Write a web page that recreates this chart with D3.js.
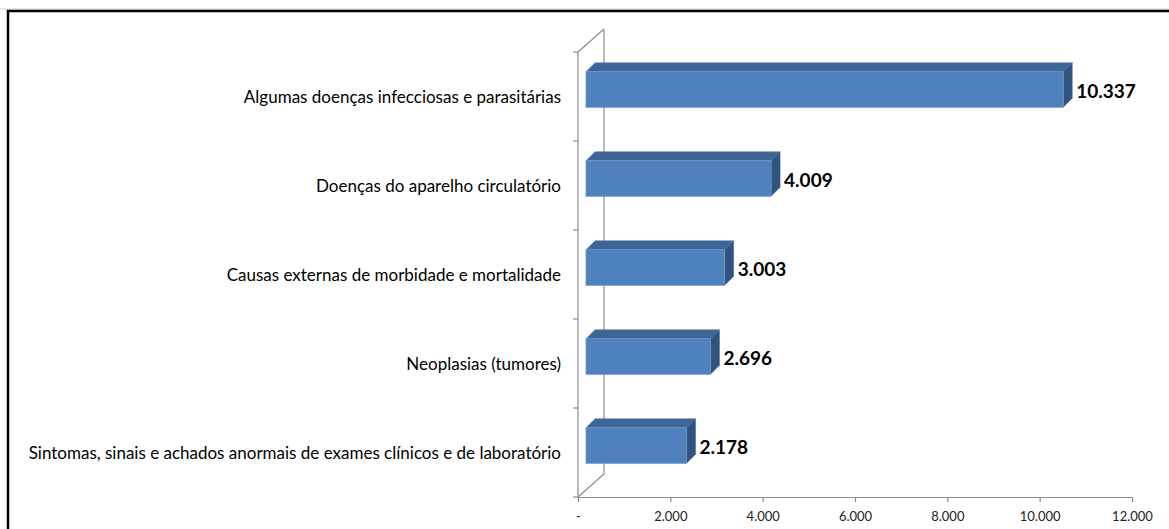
<!DOCTYPE html>
<html>
<head>
<meta charset="utf-8">
<script src="https://cdn.jsdelivr.net/npm/d3@7"></script>
<style>
  html, body { margin: 0; padding: 0; background: #fff; }
  svg { display: block; }
</style>
</head>
<body>
<script>
const categories = [
  "Algumas doenças infecciosas e parasitárias",
  "Doenças do aparelho circulatório",
  "Causas externas de morbidade e mortalidade",
  "Neoplasias (tumores)",
  "Sintomas, sinais e achados anormais de exames clínicos e de laboratório"
];
const values = [10337, 4009, 3003, 2696, 2178];
const tickValues = [0, 2000, 4000, 6000, 8000, 10000, 12000];

const W = 1169, H = 529;
const svg = d3.select("body").append("svg").attr("width", W).attr("height", H);

const locale = d3.formatLocale({decimal: ",", thousands: ".", grouping: [3], currency: ["R$", ""]});
const fmt = locale.format(",.0f");

// frame
svg.append("line").attr("x1", 0).attr("x2", W).attr("y1", 9).attr("y2", 9)
  .attr("stroke", "#d0d0d0").attr("stroke-width", 1);
svg.append("rect").attr("x", 8).attr("y", 11).attr("width", W + 20).attr("height", H + 20)
  .attr("fill", "none").attr("stroke", "#000").attr("stroke-width", 2.5);

const plot = {left: 578, right: 1132, top: 52, bottom: 497};
const wall = {dx: 26, dy: -23};
const x = d3.scaleLinear().domain([0, 12000]).range([plot.left, plot.right]);
const y = d3.scaleBand().domain(categories).range([plot.top, plot.bottom])
  .paddingInner(0.6).paddingOuter(0.3);

const axisColor = "#8c8c8c";
const g = svg.append("g");

// back wall line and diagonals
g.append("line").attr("x1", plot.left + wall.dx).attr("x2", plot.left + wall.dx)
  .attr("y1", plot.top + wall.dy).attr("y2", plot.bottom + wall.dy)
  .attr("stroke", axisColor).attr("stroke-width", 1.2);
g.append("line").attr("x1", plot.left).attr("y1", plot.top)
  .attr("x2", plot.left + wall.dx).attr("y2", plot.top + wall.dy)
  .attr("stroke", axisColor).attr("stroke-width", 1.2);
g.append("line").attr("x1", plot.left).attr("y1", plot.bottom)
  .attr("x2", plot.left + wall.dx).attr("y2", plot.bottom + wall.dy)
  .attr("stroke", axisColor).attr("stroke-width", 1.2);

// front vertical axis
g.append("line").attr("x1", plot.left).attr("x2", plot.left)
  .attr("y1", plot.top).attr("y2", plot.bottom)
  .attr("stroke", axisColor).attr("stroke-width", 1.2);
const step = y.step();
const catTicks = d3.range(categories.length + 1).map(i => plot.top + i * step);
g.selectAll(".ctick").data(catTicks).join("line")
  .attr("x1", plot.left - 5).attr("x2", plot.left)
  .attr("y1", d => d).attr("y2", d => d)
  .attr("stroke", axisColor).attr("stroke-width", 1.2);

// x axis
const xAxis = d3.axisBottom(x).tickValues(tickValues).tickSize(5)
  .tickFormat(d => d === 0 ? "-" : fmt(d));
const xg = svg.append("g").attr("transform", `translate(0,${plot.bottom})`).call(xAxis);
xg.select(".domain").attr("stroke", axisColor).attr("stroke-width", 1.2);
xg.selectAll(".tick line").attr("stroke", axisColor).attr("stroke-width", 1.2);
xg.selectAll(".tick text").attr("font-family", "Lato, sans-serif").attr("font-size", 13)
  .attr("fill", "#222").attr("dy", "1.2em");

// bars (3D)
const off = {dx: 8, dy: -7};
const depth = {dx: 9, dy: -9};
const bars = svg.append("g");
categories.forEach((c, i) => {
  const v = values[i];
  const x0 = x(0) + off.dx, x1 = x(v) + off.dx;
  const y0 = y(c) + off.dy, h = y.bandwidth();
  // top face
  bars.append("polygon")
    .attr("points", [[x0, y0], [x0 + depth.dx, y0 + depth.dy], [x1 + depth.dx, y0 + depth.dy], [x1, y0]].map(p => p.join(",")).join(" "))
    .attr("fill", "#3d6697").attr("stroke", "#5b86bb").attr("stroke-width", 0.6);
  // side face
  bars.append("polygon")
    .attr("points", [[x1, y0], [x1 + depth.dx, y0 + depth.dy], [x1 + depth.dx, y0 + h + depth.dy], [x1, y0 + h]].map(p => p.join(",")).join(" "))
    .attr("fill", "#30537f").attr("stroke", "#4a6f9e").attr("stroke-width", 0.6);
  // front face
  bars.append("rect").attr("x", x0).attr("y", y0).attr("width", x1 - x0).attr("height", h)
    .attr("fill", "#4f81bd").attr("stroke", "#6d97c9").attr("stroke-width", 0.8);
  // value label
  bars.append("text").attr("x", x1 + depth.dx + 4).attr("y", y0 + h / 2 + 1)
    .attr("dominant-baseline", "central")
    .attr("font-family", "Lato, sans-serif").attr("font-weight", "bold").attr("font-size", 19)
    .attr("fill", "#000").text(fmt(v));
});

// category labels
svg.append("g").selectAll("text").data(categories).join("text")
  .attr("x", 561).attr("y", d => y(d) + y.bandwidth() / 2)
  .attr("text-anchor", "end").attr("dominant-baseline", "central")
  .attr("font-family", "Lato, sans-serif").attr("font-size", 17)
  .attr("fill", "#000").text(d => d);
</script>
</body>
</html>
